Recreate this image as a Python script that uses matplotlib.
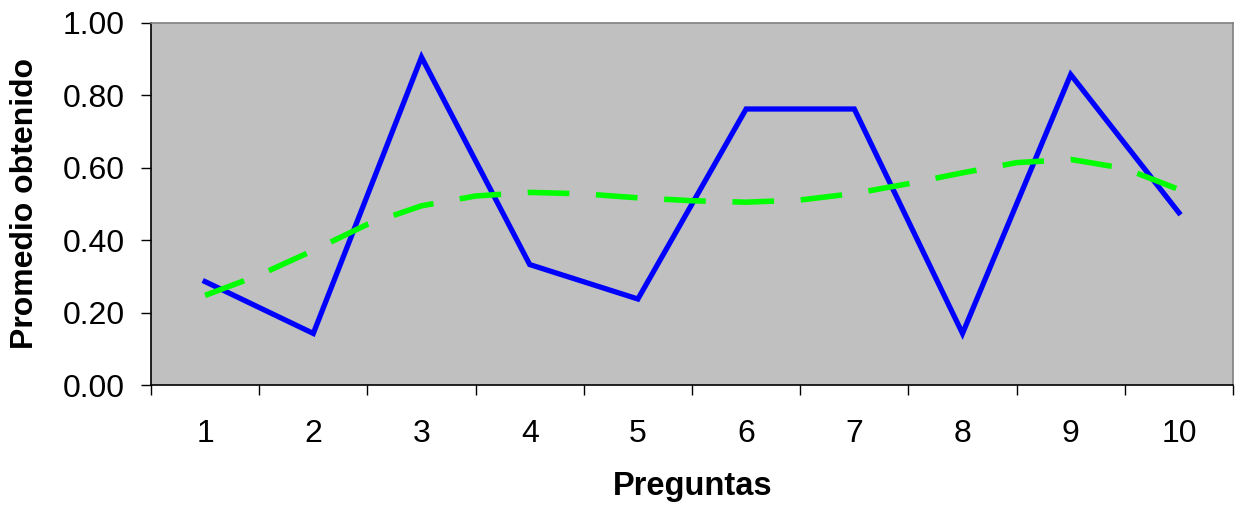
import matplotlib
matplotlib.use("Agg")
import matplotlib.pyplot as plt
from matplotlib.ticker import FixedLocator, NullFormatter

# Datos
preguntas = [1, 2, 3, 4, 5, 6, 7, 8, 9, 10]
promedio = [0.286, 0.143, 0.905, 0.333, 0.238, 0.762, 0.762, 0.143, 0.857, 0.476]

# Línea de tendencia (leída cada media pregunta)
tend_x = [1, 1.5, 2, 2.5, 3, 3.5, 4, 4.5, 5, 5.5, 6, 6.5, 7, 7.5, 8, 8.5, 9, 9.5, 10]
tend_y = [0.248, 0.304, 0.372, 0.444, 0.495, 0.522, 0.532, 0.528, 0.517, 0.509,
          0.505, 0.511, 0.529, 0.556, 0.586, 0.614, 0.623, 0.598, 0.540]

yticks = [0.0, 0.2, 0.4, 0.6, 0.8, 1.0]

plt.rcParams['font.family'] = ['Liberation Sans', 'DejaVu Sans']

fig = plt.figure(figsize=(12.41, 5.08), dpi=100)
ax = fig.add_axes([151/1241, 1-385.3/508, (1233-151)/1241, (385.3-22.7)/508])
ax.set_facecolor('#C0C0C0')

ax.plot(preguntas, promedio, color='#0000FF', lw=3.8, solid_joinstyle='miter', zorder=3)
ax.plot(tend_x, tend_y, color='#00FF00', lw=4.0, dashes=(7.5, 4.8), dash_capstyle='butt', zorder=4)

ax.set_xlim(0.5, 10.5)
ax.set_ylim(0, 1)

# Ticks del eje x en los límites de categoría, etiquetas en el centro
ax.xaxis.set_major_locator(FixedLocator([i + 0.5 for i in range(0, 11)]))
ax.xaxis.set_major_formatter(NullFormatter())
ax.xaxis.set_minor_locator(FixedLocator(preguntas))
ax.set_xticklabels([str(p) for p in preguntas], minor=True)
ax.tick_params(axis='x', which='major', direction='out', length=7, width=1, color='black')
ax.tick_params(axis='x', which='minor', length=0, pad=24, labelsize=23)

ax.set_yticks(yticks)
ax.set_yticklabels(['%.2f' % v for v in yticks])
ax.tick_params(axis='y', direction='out', length=7, width=1, pad=12, labelsize=23, color='black')

for side in ['top', 'right']:
    ax.spines[side].set_color('#808080')
    ax.spines[side].set_linewidth(1.2)
for side in ['left', 'bottom']:
    ax.spines[side].set_color('black')
    ax.spines[side].set_linewidth(1.2)

ax.set_xlabel('Preguntas', fontsize=23.5, fontweight='bold', va='center')
ax.xaxis.set_label_coords(0.5005, -0.280)
ax.set_ylabel('Promedio obtenido', fontsize=23, fontweight='bold', va='center', ha='center')
ax.yaxis.set_label_coords(-0.1165, 0.5026)

fig.savefig('out.png', dpi=100, facecolor='white')
